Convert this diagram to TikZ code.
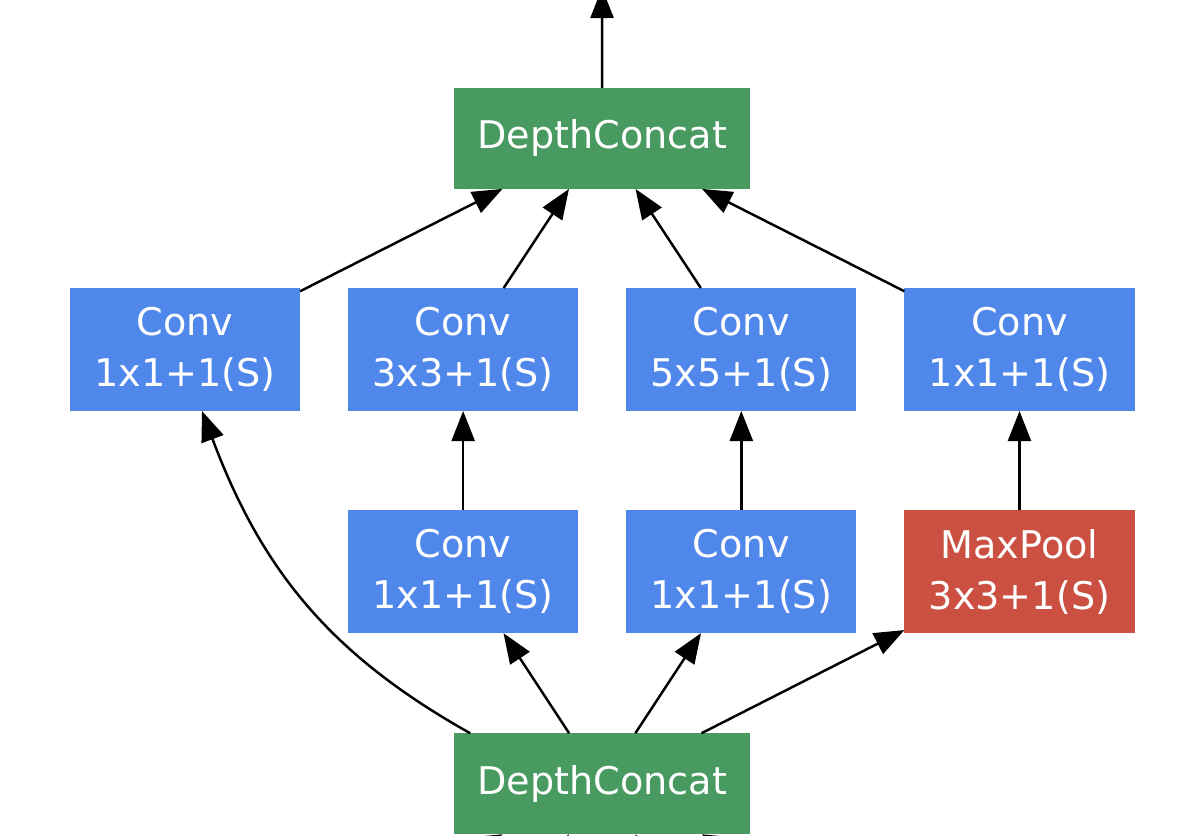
\documentclass[tikz,border=0pt]{standalone}
\usepackage{fontspec}
\setmainfont{DejaVu Sans}
\usetikzlibrary{arrows.meta,positioning,calc}
\definecolor{convblue}{RGB}{80,135,235}
\definecolor{concatgreen}{RGB}{72,154,96}
\definecolor{poolred}{RGB}{203,80,66}
\def \medY {0.99cm}
\def \medX {0.48cm}
\tikzset{
	convblock/.style= {draw=none, rectangle, align=center, minimum width=2.3cm, minimum height=1.23cm, inner sep=0pt, outer sep=0pt, fill=convblue, text=white, font=\fontsize{10.85}{14.5}\selectfont},
	poolblock/.style= {convblock, fill=poolred},
	concatblock/.style= {draw=none, rectangle, align=center, minimum width=2.96cm, minimum height=1.01cm, inner sep=0pt, outer sep=0pt, fill=concatgreen, text=white, font=\fontsize{10.85}{14.5}\selectfont},
	edge/.style= {draw, line width=0.7pt, -{Triangle[length=0.3cm,width=0.23cm]}}
}
\begin{document}
\begin{tikzpicture}[x=0.01cm,y=0.01cm]
\useasboundingbox (0,0) rectangle (1190,836);

%%%%%%%%%%%%%%%%%%%%% Nodes %%%%%%%%%%%%%%%%%%%%%
	\node [convblock] (conv_a) at (185,486.5) {Conv\\1x1+1(S)};
	\node [convblock, right = \medX of conv_a] (conv_b) {Conv\\3x3+1(S)};
	\node [convblock, right = \medX of conv_b] (conv_c) {Conv\\5x5+1(S)};
	\node [convblock, right = \medX of conv_c] (conv_d) {Conv\\1x1+1(S)};
	\node [convblock, below = \medY of conv_b] (reduce_b) {Conv\\1x1+1(S)};
	\node [convblock, below = \medY of conv_c] (reduce_c) {Conv\\1x1+1(S)};
	\node [poolblock, below = \medY of conv_d] (pool_d) {MaxPool\\3x3+1(S)};
	\node [concatblock, above = \medY of $(conv_b.north)!0.5!(conv_c.north)$] (concat_top) {DepthConcat};
	\node [concatblock, below = 1cm of $(reduce_b.south)!0.5!(reduce_c.south)$] (concat_bot) {DepthConcat};

	\coordinate (out) at (602,848);
	\coordinate (in_a) at (185,-159);
	\coordinate (in_b) at (463,-159);
	\coordinate (in_c) at (741,-159);
	\coordinate (in_d) at (1019,-159);

%%%%%%%%%%%%%%%%%%%%% Edges %%%%%%%%%%%%%%%%%%%%%
	\draw [edge] (concat_top) -- (out);
	\draw [edge] (conv_a) -- (concat_top);
	\draw [edge] (conv_b) -- (concat_top);
	\draw [edge] (conv_c) -- (concat_top);
	\draw [edge] (conv_d) -- (concat_top);
	\draw [edge] (reduce_b) -- (conv_b);
	\draw [edge] (reduce_c) -- (conv_c);
	\draw [edge] (pool_d) -- (conv_d);
	\draw [edge] ($(concat_bot.north west)+(16,0)$) .. controls +(-139,78) and +(60,-160) .. ($(conv_a.south)+(17,0)$);
	\draw [edge] (concat_bot) -- (reduce_b);
	\draw [edge] (concat_bot) -- (reduce_c);
	\draw [edge] (concat_bot) -- (pool_d);
	\draw [edge] (in_a) -- (concat_bot);
	\draw [edge] (in_b) -- (concat_bot);
	\draw [edge] (in_c) -- (concat_bot);
	\draw [edge] (in_d) -- (concat_bot);

\end{tikzpicture}
\end{document}
